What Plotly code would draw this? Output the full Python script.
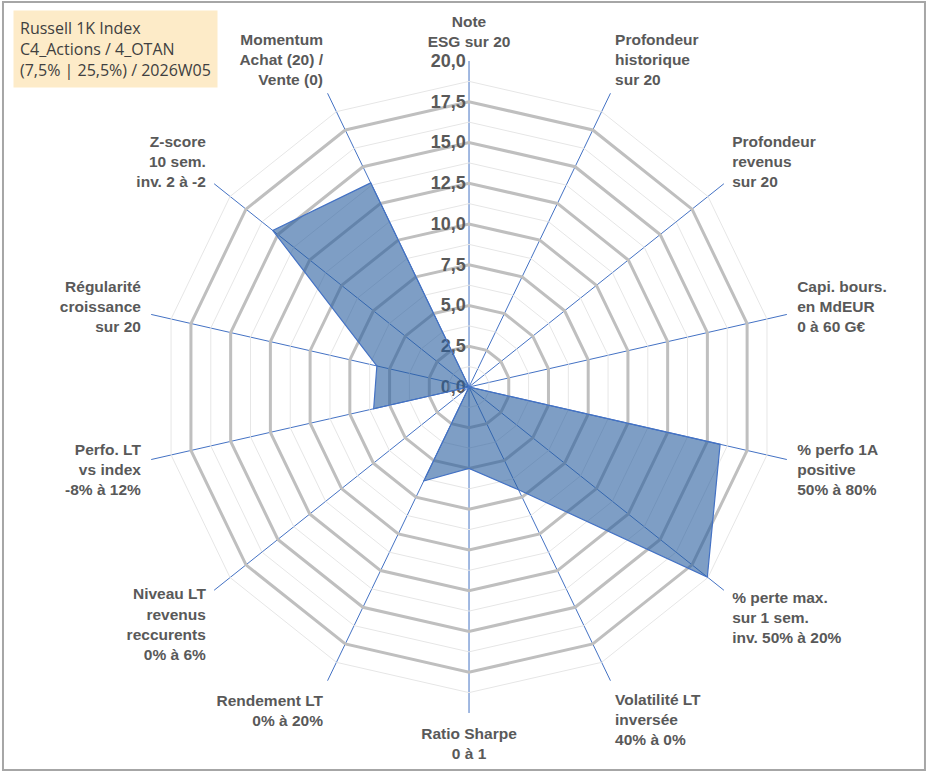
import plotly.graph_objects as go

# Axes of the radar, clockwise from the top
categories = [
    "Note<br>ESG sur 20",
    "Profondeur<br>historique<br>sur 20",
    "Profondeur<br>revenus<br>sur 20",
    "Capi. bours.<br>en MdEUR<br>0 à 60 G€",
    "% perfo 1A<br>positive<br>50% à 80%",
    "% perte max.<br>sur 1 sem.<br>inv. 50% à 20%",
    "Volatilité LT<br>inversée<br>40% à 0%",
    "Ratio Sharpe<br>0 à 1",
    "Rendement LT<br>0% à 20%",
    "Niveau LT<br>revenus<br>reccurents<br>0% à 6%",
    "Perfo. LT<br>vs index<br>-8% à 12%",
    "Régularité<br>croissance<br>sur 20",
    "Z-score<br>10 sem.<br>inv. 2 à -2",
    "Momentum<br>Achat (20) /<br>Vente (0)",
]
scores = [0, 0, 0, 0, 15.8, 18.7, 7.0, 5.0, 6.4, 0, 6.0, 5.8, 15.4, 13.9]

# radial scale
r_max = 20
major_step = 2.5
minor_rings = [1.25, 3.75, 6.25, 8.75, 11.25, 13.75, 16.25, 18.75]

legend_lines = ["Russell 1K Index", "C4_Actions / 4_OTAN", "(7,5% | 25,5%) / 2026W05"]

fig = go.Figure()

# thin minor rings
for ring in minor_rings:
    fig.add_trace(go.Scatterpolar(
        r=[ring] * (len(categories) + 1),
        theta=categories + [categories[0]],
        mode="lines",
        line=dict(color="#E6E6E6", width=1),
        hoverinfo="skip",
        showlegend=False,
    ))

fig.add_trace(go.Scatterpolar(
    r=scores + [scores[0]],
    theta=categories + [categories[0]],
    mode="lines",
    fill="toself",
    fillcolor="rgba(40,94,158,0.6)",
    line=dict(color="#4472C4", width=1.2),
    name="Score",
    showlegend=False,
))

fig.update_layout(
    width=933,
    height=776,
    margin=dict(l=0, r=0, t=0, b=0),
    paper_bgcolor="white",
    separators=", ",
    font=dict(family="Liberation Sans, Arial, sans-serif", color="#595959"),
    polar=dict(
        domain=dict(x=[0.1533, 0.8521], y=[0.0812, 0.9214]),
        bgcolor="rgba(0,0,0,0)",
        gridshape="linear",
        angularaxis=dict(
            direction="clockwise",
            rotation=90,
            showline=False,
            gridcolor="#4472C4",
            gridwidth=1.3,
            ticks="outside",
            ticklen=7,
            tickcolor="rgba(0,0,0,0)",
            tickfont=dict(size=15.5, color="#595959", family="Liberation Sans, Arial, sans-serif", weight="bold"),
            layer="below traces",
        ),
        radialaxis=dict(
            range=[0, r_max],
            dtick=major_step,
            tick0=0,
            tickformat=".1f",
            angle=90,
            tickangle=90,
            side="counterclockwise",
            showline=False,
            ticks="",
            gridcolor="#BFBFBF",
            gridwidth=3,
            tickfont=dict(size=18, color="#595959", family="Liberation Sans, Arial, sans-serif", weight="bold"),
            layer="below traces",
        ),
    ),
)

fig.add_annotation(
    xref="paper", yref="paper", x=0.014, y=0.987,
    xanchor="left", yanchor="top",
    text="<br>".join(legend_lines),
    align="left",
    showarrow=False,
    bgcolor="#FDEBC8",
    borderpad=6,
    font=dict(family="Open Sans, sans-serif", size=16, color="#404040"),
)

fig.add_shape(
    type="rect", xref="paper", yref="paper",
    x0=0.0032, y0=0.0077, x1=0.9914, y1=0.9974,
    line=dict(color="#A6A6A6", width=2),
)

# the page's default body margin would shift the figure by 8 px
fig.write_html(
    "out.html",
    config={"displayModeBar": False},
    post_script="document.body.style.margin='0';",
)
